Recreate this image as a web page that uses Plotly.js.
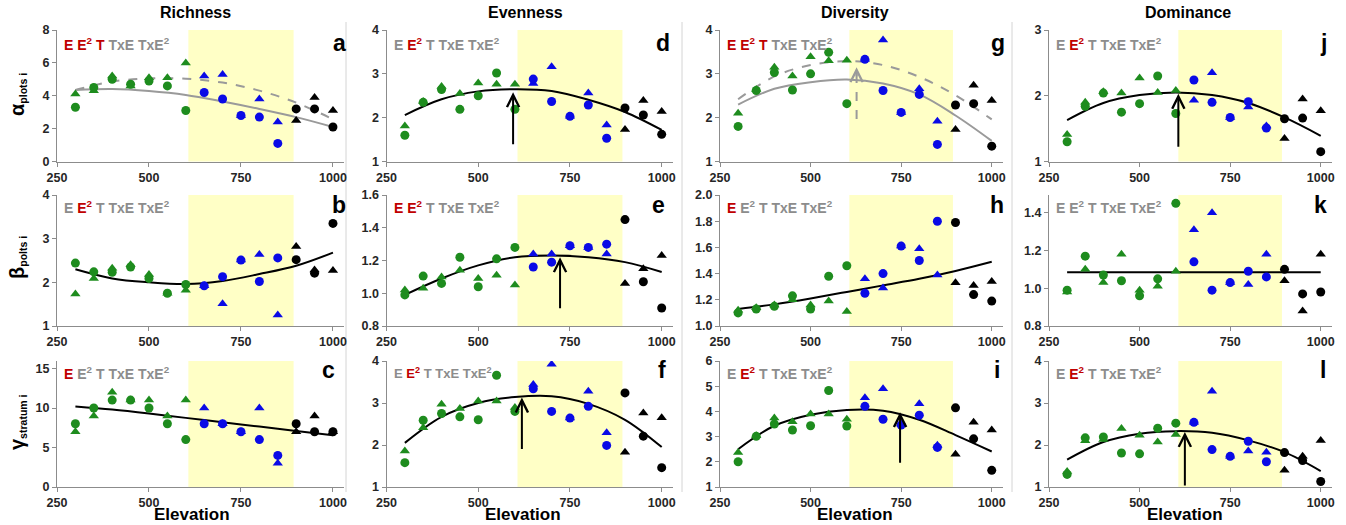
<!DOCTYPE html>
<html><head><meta charset="utf-8">
<script src="https://cdn.plot.ly/plotly-3.0.1.min.js"></script>
<style>body{margin:0;background:#fff}#chart{width:1346px;height:525px}</style>
</head><body><div id="chart"></div>
<script>
// ---------- data ----------
const elevation = [300,350,400,450,500,550,600,650,700,750,800,850,900,950,1000];
const zone = ['low','low','low','low','low','low','low','mid','mid','mid','mid','mid','high','high','high'];
const curveElevation = [300,400,500,600,700,800,900,1000];
const columnTitles = ['Richness','Evenness','Diversity','Dominance'];
const termLabels = ['E','E<sup>2</sup>','T','TxE','TxE<sup>2</sup>'];
const shadeBand = [607, 893];

// a: alpha richness
const aCircles   = [3.3,4.5,5.0,4.7,4.9,4.6,3.1,4.2,3.8,2.8,2.7,1.1,3.2,3.2,2.1];
const aTriangles = [4.1,4.3,5.2,4.6,5.1,5.1,6.0,5.2,5.3,2.8,3.8,2.4,2.5,3.9,3.1];
const aSolid     = [4.35,4.41,4.29,4.05,3.65,3.2,2.7,2.1];
const aDashed    = [4.35,4.86,5.06,5.04,4.8,4.31,3.58,2.57];
const aSig = [1,1,1,0,0];
// d: alpha evenness
const dCircles   = [1.60,2.35,2.64,2.19,2.50,3.02,2.19,2.88,2.37,2.03,2.29,1.53,2.22,2.06,1.62];
const dTriangles = [1.81,2.37,2.71,2.55,2.79,2.76,2.76,2.78,3.16,2.03,2.56,1.83,1.73,2.39,2.14];
const dCurve     = [2.06,2.42,2.60,2.65,2.61,2.41,2.13,1.72];
const dArrow = [595, 1.36, 2.58];
const dSig = [0,1,0,0,0];
// g: alpha diversity
const gCircles   = [1.80,2.62,3.03,2.63,3.00,3.49,2.32,3.33,2.62,2.12,2.53,1.39,2.29,2.32,1.35];
const gTriangles = [2.10,2.64,3.15,2.95,3.39,3.30,3.31,3.33,3.77,2.12,2.66,1.92,1.73,2.74,2.39];
const gSolid     = [2.30,2.66,2.81,2.87,2.78,2.53,2.05,1.47];
const gDashed    = [2.42,2.94,3.20,3.29,3.20,2.93,2.51,1.96];
const gArrow = [627, 1.97, 3.15];
const gSig = [1,1,1,0,0];
// j: alpha dominance
const jCircles   = [1.30,1.84,2.04,1.75,1.88,2.30,1.73,2.24,1.90,1.67,1.91,1.51,1.65,1.66,1.15];
const jTriangles = [1.41,1.90,2.06,2.04,2.27,2.05,2.08,1.93,2.35,1.67,1.83,1.54,1.35,1.95,1.77];
const jCurve     = [1.63,1.89,2.01,2.05,2.01,1.89,1.67,1.39];
const jArrow = [607, 1.2, 2.03];
const jSig = [0,1,0,0,0];
// b: beta richness
const bCircles   = [2.44,2.24,2.23,2.35,2.09,1.75,1.95,1.92,2.13,2.51,2.02,2.56,2.52,2.21,3.35];
const bTriangles = [1.73,2.09,2.32,2.40,2.18,1.75,1.82,1.92,1.51,2.51,2.64,1.25,2.82,2.28,2.27];
const bCurve     = [2.30,2.09,2.00,1.96,2.03,2.19,2.38,2.68];
const bSig = [0,1,0,0,0];
// e: beta evenness
const eCircles   = [0.99,1.105,1.06,1.22,1.04,1.21,1.28,1.16,1.19,1.29,1.28,1.30,1.45,1.07,0.91];
const eTriangles = [1.02,1.03,1.10,1.14,1.09,1.11,1.05,1.24,1.24,1.29,1.28,1.24,1.06,1.15,1.23];
const eCurve     = [0.99,1.09,1.17,1.22,1.23,1.22,1.19,1.13];
const eArrow = [723, 0.9, 1.22];
const eSig = [1,1,0,0,0];
// h: beta diversity
const hCircles   = [1.10,1.13,1.15,1.23,1.13,1.38,1.46,1.25,1.40,1.61,1.50,1.80,1.79,1.24,1.19];
const hTriangles = [1.12,1.14,1.16,1.20,1.16,1.19,1.11,1.36,1.29,1.61,1.59,1.39,1.33,1.31,1.34];
const hCurve     = [1.13,1.165,1.21,1.26,1.31,1.36,1.42,1.49];
const hSig = [1,0,0,0,0];
// k: beta dominance
const kCircles   = [0.99,1.17,1.07,1.04,0.96,1.05,1.45,1.14,0.99,1.03,1.09,1.06,1.10,0.97,0.98];
const kTriangles = [0.98,1.10,1.03,1.18,0.99,1.01,1.09,1.31,1.40,1.03,1.02,1.18,1.04,0.88,1.18];
const kCurve     = [1.085,1.085,1.085,1.085,1.085,1.085,1.085,1.085];
const kSig = [0,0,0,0,0];
// c: gamma richness
const cCircles   = [8,10,11,11,10,8,6,8,8,7,6,4,8,7,7];
const cTriangles = [7,9,12,11,11,9,11,10,8,7,10,3,7,9,7];
const cCurve     = [10.2,9.8,9.3,8.75,8.2,7.65,7.1,6.55];
const cSig = [1,0,0,0,0];
// f: gamma evenness
const fCircles   = [1.58,2.59,2.75,2.67,2.60,3.66,2.80,3.34,2.80,2.64,2.92,1.99,3.24,2.21,1.46];
const fTriangles = [1.86,2.41,2.97,2.87,3.05,3.05,2.89,3.44,3.92,2.64,3.28,2.29,1.83,2.76,2.65];
const fCurve     = [2.05,2.67,3.00,3.14,3.16,2.98,2.60,1.95];
const fArrow = [619, 1.87, 3.13];
const fSig = [0,1,0,0,0];
// i: gamma diversity
const iCircles   = [2.00,3.01,3.50,3.26,3.43,4.83,3.42,4.20,3.69,3.46,3.85,2.57,4.14,2.91,1.66];
const iTriangles = [2.37,3.03,3.74,3.59,3.90,3.90,3.69,4.54,4.90,3.50,4.30,2.66,2.30,3.57,3.26];
const iCurve     = [2.50,3.43,3.87,4.06,4.03,3.67,3.06,2.41];
const iArrow = [747, 1.9, 3.97];
const iSig = [0,1,0,0,0];
// l: gamma dominance
const lCircles   = [1.30,2.17,2.19,1.81,1.79,2.40,2.52,2.54,1.89,1.73,2.09,1.60,1.82,1.63,1.13];
const lTriangles = [1.37,2.10,2.13,2.39,2.23,2.07,2.25,2.54,3.28,1.73,1.86,1.83,1.40,1.73,2.11];
const lCurve     = [1.65,2.07,2.27,2.33,2.29,2.11,1.83,1.38];
const lArrow = [625, 1.0, 2.31];
const lSig = [0,1,0,0,0];

// ---------- layout helpers ----------
const W = 1346, H = 525;
const FONT = 'Liberation Sans, Arial, sans-serif';
const zoneColor = {low:'#1e8c1e', mid:'#0a0ae6', high:'#000000'};
const markerColors = zone.map(z => zoneColor[z]);
const cols = [{l:57,r:344},{l:386.5,r:672.7},{l:720,r:1002.6},{l:1049,r:1331.6}];
const rows = [{t:30,b:161.5},{t:195,b:326},{t:361,b:487}];
const separators = [346, 682, 1012];
const px = x => x / W, py = y => 1 - y / H;

const panels = [
  {letter:'a',r:0,c:0,range:[0,8],dtick:2,fmt:'',circ:aCircles,tri:aTriangles,solid:aSolid,dashed:aDashed,solidColor:'#9a9a9a',sig:aSig,lx:339},
  {letter:'d',r:0,c:1,range:[1,4],dtick:1,fmt:'',circ:dCircles,tri:dTriangles,solid:dCurve,arrow:dArrow,sig:dSig,lx:663},
  {letter:'g',r:0,c:2,range:[1,4],dtick:1,fmt:'',circ:gCircles,tri:gTriangles,solid:gSolid,dashed:gDashed,solidColor:'#9a9a9a',arrow:gArrow,arrowDashed:true,sig:gSig,lx:998},
  {letter:'j',r:0,c:3,range:[1,3],dtick:1,fmt:'',circ:jCircles,tri:jTriangles,solid:jCurve,arrow:jArrow,sig:jSig,lx:1323},
  {letter:'b',r:1,c:0,range:[1,4],dtick:1,fmt:'',circ:bCircles,tri:bTriangles,solid:bCurve,sig:bSig,lx:339},
  {letter:'e',r:1,c:1,range:[0.8,1.6],dtick:0.2,fmt:'.1f',circ:eCircles,tri:eTriangles,solid:eCurve,arrow:eArrow,sig:eSig,lx:658},
  {letter:'h',r:1,c:2,range:[1.0,2.0],dtick:0.2,fmt:'.1f',circ:hCircles,tri:hTriangles,solid:hCurve,sig:hSig,lx:997},
  {letter:'k',r:1,c:3,range:[0.8,1.494],dtick:0.2,fmt:'.1f',circ:kCircles,tri:kTriangles,solid:kCurve,sig:kSig,lx:1320},
  {letter:'c',r:2,c:0,range:[0,15.95],dtick:5,fmt:'',circ:cCircles,tri:cTriangles,solid:cCurve,sig:cSig,lx:328},
  {letter:'f',r:2,c:1,range:[1,4],dtick:1,fmt:'',circ:fCircles,tri:fTriangles,solid:fCurve,arrow:fArrow,sig:fSig,lx:662,sigSize:13},
  {letter:'i',r:2,c:2,range:[1,6],dtick:1,fmt:'',circ:iCircles,tri:iTriangles,solid:iCurve,arrow:iArrow,sig:iSig,lx:997},
  {letter:'l',r:2,c:3,range:[1,4],dtick:1,fmt:'',circ:lCircles,tri:lTriangles,solid:lCurve,arrow:lArrow,sig:lSig,lx:1323},
];

const traces = [], shapes = [], annotations = [];
const layout = {
  width: W, height: H, margin: {l:0,r:0,t:0,b:0},
  paper_bgcolor: '#ffffff', plot_bgcolor: 'rgba(0,0,0,0)',
  showlegend: false, font: {family: FONT, color: '#222'},
};
const tickFont = {family: FONT, size: 12.5, color: '#262626', weight: 'bold'};
const sigY = [43.5, 207, 373];
const letterY = [43, 205, 370];

separators.forEach(sx => shapes.push({type:'line', xref:'paper', yref:'paper', x0: px(sx), x1: px(sx), y0: py(492), y1: py(22),
  line: {color:'#d4d4d4', width: 1}, layer: 'below'}));

panels.forEach((p, idx) => {
  const n = idx + 1, xa = 'x' + n, ya = 'y' + n;
  const col = cols[p.c], row = rows[p.r];
  layout['xaxis' + n] = {
    domain: [px(col.l), px(col.r)], anchor: ya, range: [250, 1030],
    tickvals: [250,500,750,1000], ticks: 'outside', ticklen: 4, tickcolor: '#8c8c8c',
    showline: true, linecolor: '#8c8c8c', linewidth: 1, showgrid: false, zeroline: false,
    tickfont: tickFont, fixedrange: true,
  };
  layout['yaxis' + n] = {
    domain: [py(row.b), py(row.t)], anchor: xa, range: p.range,
    tick0: p.range[0], dtick: p.dtick, tickformat: p.fmt, ticks: 'outside', ticklen: 4, tickcolor: '#8c8c8c',
    showline: true, linecolor: '#8c8c8c', linewidth: 1, showgrid: false, zeroline: false,
    tickfont: tickFont, fixedrange: true,
  };
  shapes.push({type:'rect', xref: xa, yref: ya + ' domain', x0: shadeBand[0], x1: shadeBand[1], y0: 0, y1: 1,
    fillcolor: '#ffffc6', line: {width: 0}, layer: 'below'});

  if (p.dashed) traces.push({type:'scatter', mode:'lines', x: curveElevation, y: p.dashed, xaxis: xa, yaxis: ya,
    line: {color:'#9a9a9a', width: 2, dash: 'dash', shape: 'spline'}, hoverinfo: 'skip'});
  traces.push({type:'scatter', mode:'lines', x: curveElevation, y: p.solid, xaxis: xa, yaxis: ya,
    line: {color: p.solidColor || '#000000', width: 2, shape: 'spline'}, hoverinfo: 'skip'});
  traces.push({type:'scatter', mode:'markers', x: elevation, y: p.tri, xaxis: xa, yaxis: ya,
    marker: {symbol:'triangle-up', size: 9, color: markerColors}});
  traces.push({type:'scatter', mode:'markers', x: elevation, y: p.circ, xaxis: xa, yaxis: ya,
    marker: {symbol:'circle', size: 9, color: markerColors}});

  if (p.arrow) {
    const [ax, tail, head] = p.arrow;
    if (p.arrowDashed) {
      const span = p.range[1] - p.range[0];
      shapes.push({type:'line', xref: xa, yref: ya, x0: ax, x1: ax, y0: tail, y1: head - span*0.03,
        line: {color:'#9a9a9a', width: 2, dash: 'dash'}});
      annotations.push({xref: xa, yref: ya, x: ax, y: head, axref: xa, ayref: ya, ax: ax, ay: head - span*0.08,
        text: '', showarrow: true, arrowhead: 5, arrowsize: 1.2, arrowwidth: 2, arrowcolor: '#9a9a9a', standoff: 0, startstandoff: 0});
    } else {
      annotations.push({xref: xa, yref: ya, x: ax, y: head, axref: xa, ayref: ya, ax: ax, ay: tail,
        text: '', showarrow: true, arrowhead: 5, arrowsize: 1.2, arrowwidth: 2, arrowcolor: '#000000', standoff: 0, startstandoff: 0});
    }
  }
  // significance terms
  const txt = termLabels.map((t, k) => `<span style="color:${p.sig[k] ? '#c00000' : '#8c8c8c'}">${t}</span>`).join(' ');
  annotations.push({xref:'paper', yref:'paper', x: px(col.l + 5), y: py(sigY[p.r]), xanchor:'left', yanchor:'middle',
    text: '<b>' + txt + '</b>', showarrow: false, font: {family: FONT, size: p.sigSize || 14}});
  // panel letter
  annotations.push({xref:'paper', yref:'paper', x: px(p.lx), y: py(letterY[p.r]), xanchor:'center', yanchor:'middle',
    text: '<b>' + p.letter + '</b>', showarrow: false, font: {family: FONT, size: 23, color: '#000'}});
});

// column titles and x-axis titles
const titleX = [195, 525, 855, 1188];
const elevX = [192, 523, 855, 1185];
columnTitles.forEach((t, k) => {
  annotations.push({xref:'paper', yref:'paper', x: px(titleX[k]), y: py(12), xanchor:'center', yanchor:'middle',
    text: '<b>' + t + '</b>', showarrow: false, font: {family: FONT, size: 16, color: '#000'}});
  annotations.push({xref:'paper', yref:'paper', x: px(elevX[k]), y: py(514), xanchor:'center', yanchor:'middle',
    text: '<b>Elevation</b>', showarrow: false, borderpad: 0, font: {family: FONT, size: 17, color: '#000'}});
});
// y titles
const yTitles = [
  {t:'<b><span style="font-size:20px">α</span><sub>plots i</sub></b>', y: 95},
  {t:'<b><span style="font-size:20px">β</span><sub>polts i</sub></b>', y: 258},
  {t:'<b><span style="font-size:20px">γ</span><sub>stratum i</sub></b>', y: 422},
];
yTitles.forEach(o => annotations.push({xref:'paper', yref:'paper', x: px(17), y: py(o.y), xanchor:'center', yanchor:'middle',
  text: o.t, textangle: -90, showarrow: false, font: {family: FONT, size: 15, color: '#000'}}));

layout.shapes = shapes;
layout.annotations = annotations;
Plotly.newPlot('chart', traces, layout, {staticPlot: true});
</script>
</body></html>
